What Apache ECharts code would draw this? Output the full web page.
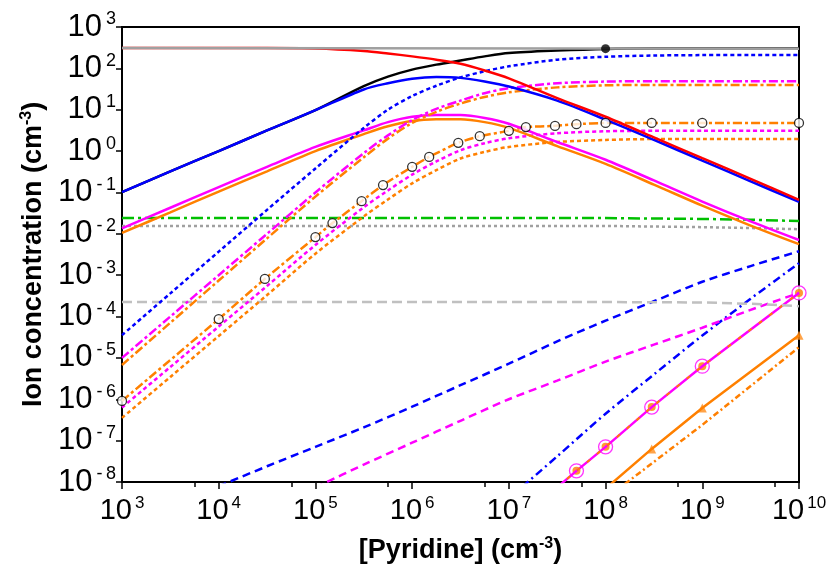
<!DOCTYPE html>
<html>
<head>
<meta charset="utf-8">
<script src="https://cdn.jsdelivr.net/npm/echarts@6/dist/echarts.min.js"></script>
<style>
  html, body { margin: 0; padding: 0; background: #fff; }
  #chart-container { width: 835px; height: 569px; }
</style>
</head>
<body>
<div id="chart-container"></div>
<script>
// common x grid (half / quarter decades)
const LX = [1e3, 3.16e3, 1e4, 3.16e4, 1e5, 3.16e5, 5.62e5, 1e6, 1.78e6, 3.16e6, 5.62e6, 1e7, 3.16e7, 1e8, 3.16e8, 1e9, 3.16e9, 1e10];

const redSolid = [309, 309, 309, 309, 302, 263, 229, 195, 162, 129, 89, 57.5, 19.1, 6.76, 2.14, 0.676, 0.214, 0.0661];
const blackSolid = [0.102, 0.324, 1.0, 3.16, 9.77, 37.2, 63.1, 93.3, 123, 155, 195, 234, 269, 295, 302, 302, 302, 302];
const blueSolid = [0.102, 0.324, 1.0, 3.16, 9.77, 30.9, 43.7, 56.2, 61.7, 58.9, 47.9, 36.3, 16.6, 5.75, 1.86, 0.589, 0.186, 0.0589];
const blueDot = [3.55e-5, 3.63e-4, 3.72e-3, 3.80e-2, 0.380, 3.63, 10, 21.4, 38.0, 60.3, 85.1, 112, 162, 191, 204, 209, 209, 209];
const magentaDashDot = [1e-5, 1e-4, 1e-3, 1e-2, 0.1, 0.891, 2.40, 5.62, 10.5, 16.6, 25.1, 33.1, 43.7, 47.9, 49.0, 49.0, 49.0, 49.0];
const orangeDashDot = [6.76e-6, 7.08e-5, 7.41e-4, 7.76e-3, 7.94e-2, 0.708, 2.0, 4.79, 8.91, 14.1, 20.4, 26.3, 34.7, 38.9, 39.8, 39.8, 39.8, 39.8];
const magentaDot = [6.31e-7, 6.03e-6, 5.75e-5, 5.50e-4, 5.37e-3, 4.37e-2, 0.112, 0.269, 0.562, 1.05, 1.55, 2.04, 2.69, 3.02, 3.09, 3.09, 3.09, 3.09];
const orangeDot = [3.55e-7, 3.47e-6, 3.39e-5, 3.31e-4, 3.31e-3, 2.63e-2, 6.76e-2, 0.166, 0.347, 0.661, 0.955, 1.26, 1.66, 1.86, 1.95, 1.95, 1.95, 1.95];
const magentaSolid = [1.35e-2, 4.27e-2, 0.135, 0.417, 1.26, 3.16, 5.01, 6.76, 7.41, 7.41, 6.31, 4.57, 1.66, 0.617, 0.195, 0.0603, 0.02, 7.08e-3];
const orangeSolid = [1.05e-2, 3.31e-2, 0.105, 0.324, 1.0, 2.57, 3.98, 5.37, 5.89, 5.89, 5.01, 3.63, 1.32, 0.490, 0.155, 0.0479, 0.0158, 5.62e-3];

// open circles (on the lower orange dash-dot curve)
const circleX = [1e3, 1e4, 3e4, 1e5, 1.5e5, 3e5, 5e5, 1e6, 1.5e6, 3e6, 5e6, 1e7, 1.5e7, 3e7, 5e7, 1e8, 3e8, 1e9, 1e10];
const circleY = [9.12e-7, 8.71e-5, 8.13e-4, 8.32e-3, 1.82e-2, 6.17e-2, 0.151, 0.417, 0.724, 1.58, 2.29, 3.09, 3.80, 4.07, 4.47, 4.79, 4.79, 4.79, 4.79];

// near-flat lines
const flatX = [1e3, 1e8, 1e9, 3.16e9, 1e10];
const greenDashDot = [2.40e-2, 2.40e-2, 2.29e-2, 2.19e-2, 2.04e-2];
const grayDot = [1.55e-2, 1.55e-2, 1.45e-2, 1.38e-2, 1.29e-2];
const grayDash = [2.24e-4, 2.24e-4, 2.19e-4, 2.04e-4, 1.78e-4];
const graySolidX = [1e3, 1e10];
const graySolid = [309, 300];

// lower curves
const blueDashX = [1e4, 3.16e4, 1e5, 3.16e5, 1e6, 3.16e6, 1e7, 3.16e7, 1e8, 3.16e8, 1e9, 3.16e9, 1e10];
const blueDash = [7.9e-9, 2.40e-8, 7.08e-8, 2.09e-7, 6.61e-7, 2.19e-6, 7.24e-6, 2.51e-5, 7.94e-5, 2.34e-4, 6.92e-4, 1.66e-3, 3.80e-3];
const magentaDashX = [1e5, 3.16e5, 1e6, 3.16e6, 1e7, 3.16e7, 1e8, 3.16e8, 1e9, 3.16e9, 1e10];
const magentaDash = [7.41e-9, 2.63e-8, 8.91e-8, 3.02e-7, 1e-6, 2.82e-6, 8.13e-6, 2.09e-5, 5.37e-5, 1.45e-4, 3.72e-4];
const blueDashDotX = [1e7, 3.16e7, 1e8, 3.16e8, 1e9, 3.16e9, 1e10];
const blueDashDot = [3.98e-9, 4.17e-8, 4.47e-7, 3.98e-6, 3.47e-5, 2.69e-4, 1.95e-3];

const ringX = [3.16e7, 5e7, 1e8, 3e8, 1e9, 1e10];
const ringY = [7.41e-9, 1.86e-8, 7.08e-8, 6.46e-7, 6.31e-6, 3.72e-4];
const triX = [1e8, 3e8, 1e9, 1e10];
const triY = [6.9e-9, 6.31e-8, 6.17e-7, 3.55e-5];
const lowOrangeX = [1.58e8, 1e9, 1e10];
const lowOrange = [8.9e-9, 2.40e-7, 1.82e-5];

const blackDot = [[1e8, 300]];

// minor tick positions on x (log10 units)
const minorTicks = [3.75, 4.75, 5.75, 6.75, 7.75, 8.75, 9.75];

const FONT = 'Liberation Sans, Arial, sans-serif';

const pair = (xs, ys) => xs.map((x, i) => [x, ys[i]]);

function curve(xs, ys, color, type, extra) {
  return Object.assign({
    type: 'line',
    data: pair(xs, ys),
    showSymbol: false,
    symbol: 'none',
    smooth: 0.3,
    lineStyle: { color: color, width: 2.5, type: type },
    itemStyle: { color: color }
  }, extra || {});
}

const chartContainer = document.getElementById('chart-container');
const myChart = echarts.init(chartContainer, null, { renderer: 'canvas' });

const xLabel = v => '{b|10}{s|' + Math.round(Math.log10(v)) + '}';
const yLabel = v => {
  const e = Math.round(Math.log10(v));
  return '{b|10}{s|' + (e < 0 ? '-\u2009' + (-e) : e) + '}';
};

let option = {
  animation: false,
  backgroundColor: '#fff',
  grid: {
    left: 122, right: 36, top: 27, bottom: 87,
    show: true, borderColor: '#000', borderWidth: 2
  },
  xAxis: [{
    type: 'log',
    logBase: 10,
    min: 1e3,
    max: 1e10,
    interval: 1,
    name: '{t|[Pyridine] (cm}{s|-3}{t|)}',
    nameLocation: 'middle',
    nameGap: 54,
    nameTextStyle: {
      rich: {
        t: { fontSize: 27, fontWeight: 'bold', fontFamily: FONT, color: '#000' },
        s: { fontSize: 16, fontWeight: 'bold', fontFamily: FONT, color: '#000', verticalAlign: 'bottom', padding: [0, 0, 13, 0] }
      }
    },
    axisLine: { lineStyle: { color: '#000', width: 2 } },
    axisTick: { length: 7, lineStyle: { color: '#000', width: 1.5 } },
    splitLine: { show: false },
    minorTick: { show: false },
    axisLabel: {
      margin: 13,
      formatter: xLabel,
      rich: {
        b: { fontSize: 29, fontFamily: FONT, color: '#000' },
        s: { fontSize: 17, fontFamily: FONT, color: '#000', verticalAlign: 'bottom', padding: [0, 0, 15, 3] }
      }
    }
  }, {
    type: 'value',
    min: 3,
    max: 10,
    position: 'bottom',
    axisLine: { show: false },
    axisLabel: { show: false },
    splitLine: { show: false },
    axisTick: { show: true, length: 5, customValues: minorTicks, lineStyle: { color: '#000', width: 1.5 } }
  }],
  yAxis: {
    type: 'log',
    logBase: 10,
    min: 1e-8,
    max: 1e3,
    interval: 1,
    name: '{t|Ion concentration (cm}{s|-3}{t|)}',
    nameLocation: 'middle',
    nameRotate: 90,
    nameGap: 70,
    nameTextStyle: {
      rich: {
        t: { fontSize: 27, fontWeight: 'bold', fontFamily: FONT, color: '#000' },
        s: { fontSize: 16, fontWeight: 'bold', fontFamily: FONT, color: '#000', verticalAlign: 'bottom', padding: [0, 0, 13, 0] }
      }
    },
    axisLine: { show: true, lineStyle: { color: '#000', width: 2 } },
    axisTick: { show: true, length: 6, lineStyle: { color: '#000', width: 1.5 } },
    splitLine: { show: false },
    axisLabel: {
      margin: 6,
      formatter: yLabel,
      rich: {
        b: { fontSize: 31, fontFamily: FONT, color: '#000' },
        s: { fontSize: 18, fontFamily: FONT, color: '#000', verticalAlign: 'bottom', padding: [0, 0, 15, 4] }
      }
    }
  },
  series: [
    curve(lowOrangeX, lowOrange, '#ff7f00', [6, 3, 2, 3], { smooth: false }),
    curve(triX, triY, '#ff8000', 'solid', { smooth: false }),
    { type: 'scatter', data: pair(triX.slice(1), triY.slice(1)), symbol: 'triangle', symbolSize: 9, itemStyle: { color: '#ff8c1a' } },
    curve(ringX, ringY, '#ff00ff', 'solid', { smooth: false }),
    curve(ringX, ringY, '#ff8000', [4, 9], { smooth: false, lineStyle: { color: '#ff8000', width: 2, type: [4, 9] } }),
    { type: 'scatter', data: pair(ringX.slice(1), ringY.slice(1)), symbol: 'circle', symbolSize: 14, itemStyle: { color: '#fff', borderColor: '#ff00ff', borderWidth: 1.3 } },
    { type: 'scatter', data: pair(ringX.slice(1), ringY.slice(1)), symbol: 'circle', symbolSize: 8, itemStyle: { color: '#ff8000' } },
    curve(blueDashDotX, blueDashDot, '#0000ff', [8, 4, 2, 4]),
    curve(magentaDashX, magentaDash, '#ff00ff', [8, 5]),
    curve(blueDashX, blueDash, '#0000ff', [8, 5]),
    curve(flatX, grayDash, '#c0c0c0', [10, 5], { smooth: false }),
    curve(flatX, grayDot, '#a0a0a0', [3, 3], { smooth: false }),
    curve(flatX, greenDashDot, '#00c000', [12, 4, 3, 4], { smooth: false }),
    curve(LX, orangeDot, '#ff8000', [4, 3]),
    curve(LX, magentaDot, '#ff00ff', [4, 3]),
    curve(circleX, circleY, '#ff8000', [9, 3, 3, 3], { smooth: 0.2 }),
    { type: 'scatter', data: pair(circleX, circleY), symbol: 'circle', symbolSize: 9, itemStyle: { color: '#fff', borderColor: '#000', borderWidth: 1.3 }, z: 5 },
    curve(LX, orangeSolid, '#ff8000', 'solid'),
    curve(LX, magentaSolid, '#ff00ff', 'solid'),
    curve(LX, orangeDashDot, '#ff8000', [9, 3, 3, 3]),
    curve(LX, magentaDashDot, '#ff00ff', [9, 3, 3, 3]),
    curve(LX, blueDot, '#0000ff', [4, 3]),
    curve(LX, blackSolid, '#000000', 'solid'),
    curve(LX, blueSolid, '#0000ff', 'solid'),
    curve(LX, redSolid, '#ff0000', 'solid'),
    curve(graySolidX, graySolid, '#a0a0a0', 'solid', { smooth: false }),
    { type: 'scatter', data: blackDot, symbol: 'circle', symbolSize: 9, itemStyle: { color: '#000' }, z: 5 }
  ]
};

if (option && typeof option === 'object') {
  myChart.setOption(option);
}
window.addEventListener('resize', myChart.resize);
</script>
</body>
</html>
